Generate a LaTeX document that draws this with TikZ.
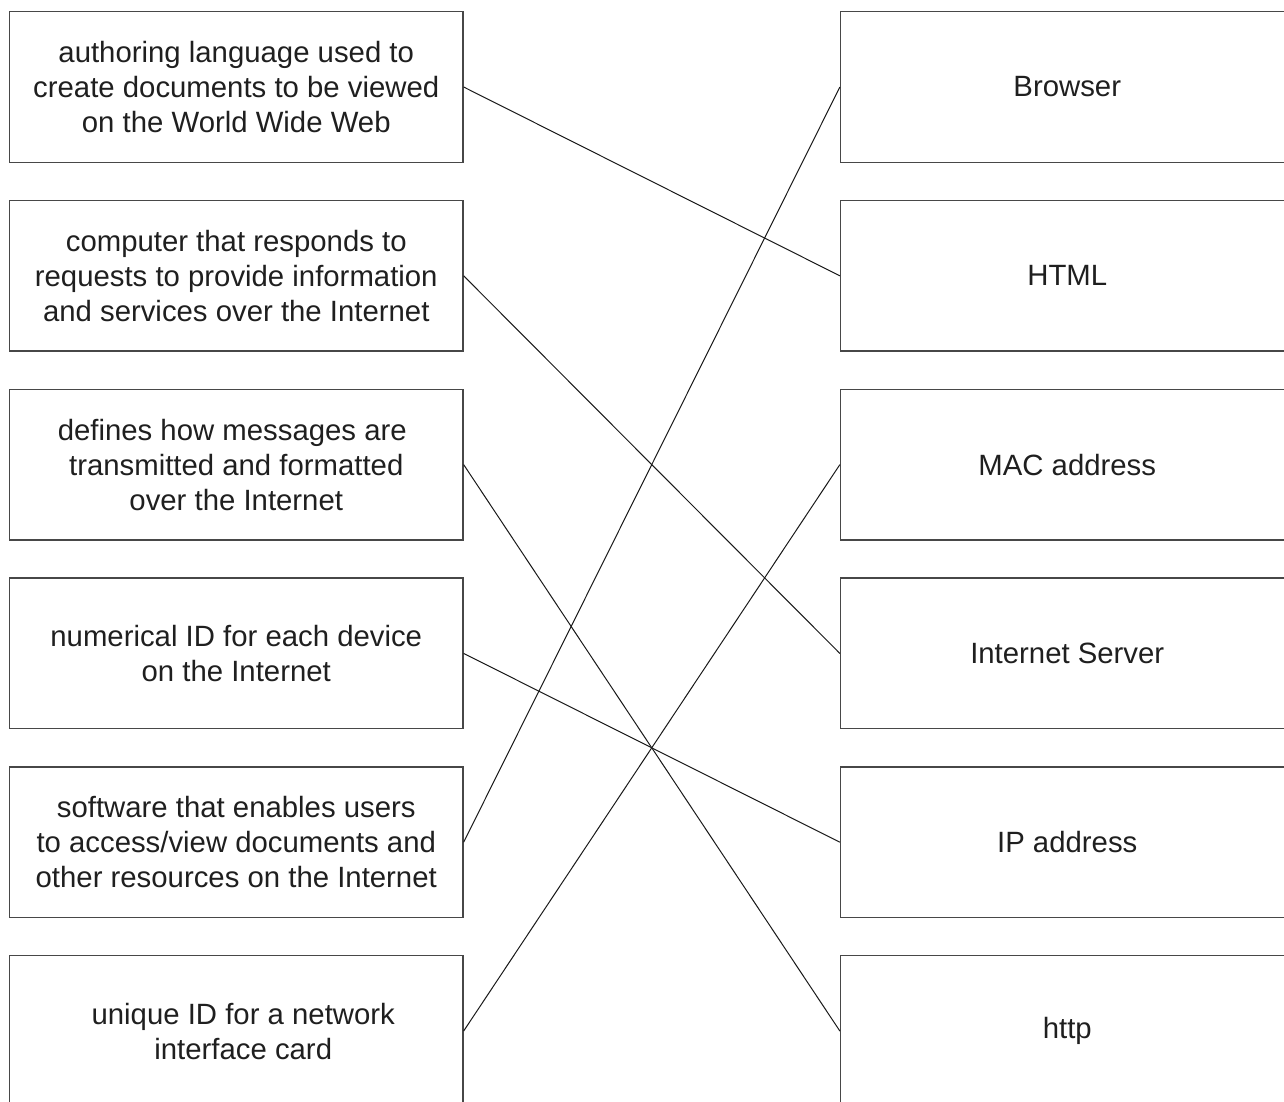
\documentclass[tikz,border=0pt]{standalone}
\usepackage{fontspec}
\setmainfont{Liberation Sans}
\usepackage{tikz}

\begin{document}
\begin{tikzpicture}[x=0.75pt,y=-0.75pt,
  card/.style={draw=black!72,line width=1.1pt,minimum width=340pt,minimum height=113pt,
    inner sep=0pt,align=center,text=black!88,font=\fontsize{22}{26.25}\selectfont},
  link/.style={black!90,line width=0.75pt}]
  \path[use as bounding box,clip] (0,0) rectangle (1284,1101);
  % descriptions on the left
  \node[card] (desc1) at (236.25,87) {authoring language used to\\create documents to be viewed\\on the World Wide Web};
  \node[card] (desc2) at (236.25,275.8) {computer that responds to\\requests to provide information\\and services over the Internet};
  \node[card] (desc3) at (236.25,464.6) {defines how messages are\hspace*{6pt}\\transmitted and formatted\\over the Internet};
  \node[card] (desc4) at (236.25,653.4) {numerical ID for each device\\on the Internet};
  \node[card] (desc5) at (236.25,842.2) {software that enables users\\to access/view documents and\\other resources on the Internet};
  \node[card] (desc6) at (236.25,1031) {\hspace*{10.5pt}unique ID for a network\\\hspace*{10.5pt}interface card};
  % terms on the right
  \node[card] (term1) at (1067.25,87) {Browser};
  \node[card] (term2) at (1067.25,275.8) {HTML};
  \node[card] (term3) at (1067.25,464.6) {MAC address};
  \node[card] (term4) at (1067.25,653.4) {Internet Server};
  \node[card] (term5) at (1067.25,842.2) {IP address};
  \node[card] (term6) at (1067.25,1031) {http};
  % matching lines
  \draw[link] (desc1.east) -- (term2.west);
  \draw[link] (desc2.east) -- (term4.west);
  \draw[link] (desc3.east) -- (term6.west);
  \draw[link] (desc4.east) -- (term5.west);
  \draw[link] (desc5.east) -- (term1.west);
  \draw[link] (desc6.east) -- (term3.west);
\end{tikzpicture}
\end{document}
